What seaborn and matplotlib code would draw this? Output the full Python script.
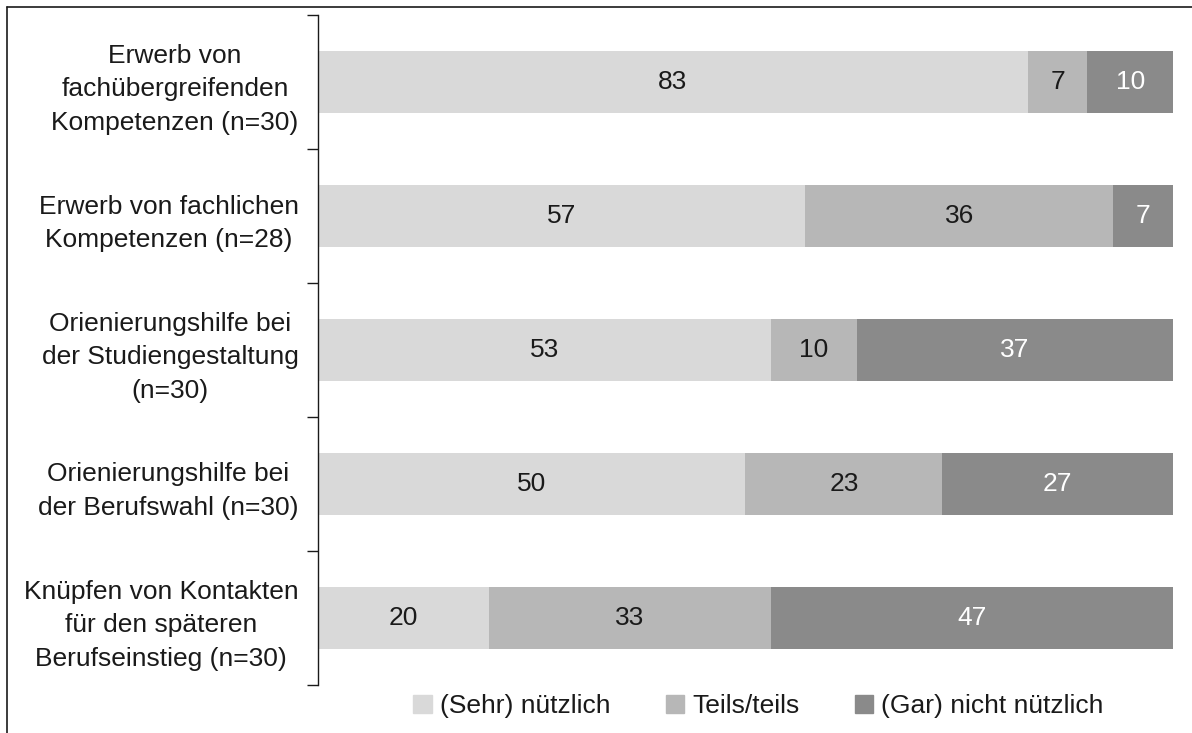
import matplotlib
matplotlib.use("Agg")
import matplotlib.pyplot as plt
from matplotlib.lines import Line2D
from matplotlib.ticker import FixedLocator
import numpy as np
import pandas as pd
import seaborn as sns

categories = [
    "Erwerb von\nfachübergreifenden\nKompetenzen (n=30)",
    "Erwerb von fachlichen\nKompetenzen (n=28)",
    "Orienierungshilfe bei\nder Studiengestaltung\n(n=30)",
    "Orienierungshilfe bei\nder Berufswahl (n=30)",
    "Knüpfen von Kontakten\nfür den späteren\nBerufseinstieg (n=30)",
]
series_names = ["(Sehr) nützlich", "Teils/teils", "(Gar) nicht nützlich"]
sehr_nuetzlich = [83, 57, 53, 50, 20]
teils_teils = [7, 36, 10, 23, 33]
nicht_nuetzlich = [10, 7, 37, 27, 47]

colors = ["#d9d9d9", "#b7b7b7", "#8a8a8a"]
text_colors = ["#1a1a1a", "#1a1a1a", "#ffffff"]
FS = 19

sns.set_theme(style="white")
plt.rcParams["font.family"] = ["Liberation Sans", "DejaVu Sans"]
plt.rcParams["font.size"] = FS

values = np.array([sehr_nuetzlich, teils_teils, nicht_nuetzlich], dtype=float)
cumulative = np.cumsum(values, axis=0)

fig = plt.figure(figsize=(11.92, 7.33), dpi=100)
ax = fig.add_axes([318 / 1192, 1 - 685 / 733, (1173 - 318) / 1192, (685 - 15) / 733])

# Stacked bars: draw the cumulative totals from the outermost segment inward
for i in reversed(range(len(series_names))):
    df = pd.DataFrame({"Kategorie": categories, "Wert": cumulative[i]})
    sns.barplot(data=df, x="Wert", y="Kategorie", orient="y", color=colors[i],
                saturation=1, width=0.47, ax=ax, linewidth=0, label=series_names[i])

# Segment value labels
for i in range(len(series_names)):
    starts = cumulative[i] - values[i]
    for j, v in enumerate(values[i]):
        ax.text(starts[j] + v / 2, j, f"{int(v)}", ha="center", va="center",
                color=text_colors[i], fontsize=FS)

ax.set_xlim(0, 100)
ax.set_ylim(len(categories) - 0.5, -0.5)
ax.set_xlabel("")
ax.set_ylabel("")
ax.set_xticks([])
for side in ["top", "right", "bottom"]:
    ax.spines[side].set_visible(False)
ax.spines["left"].set_color("#1a1a1a")
ax.spines["left"].set_linewidth(1.0)

ax.yaxis.set_minor_locator(FixedLocator(np.arange(-0.5, len(categories), 1.0)))
ax.tick_params(axis="y", which="major", length=0, pad=14, labelsize=FS,
               labelcolor="#1a1a1a")
ax.tick_params(axis="y", which="minor", length=8, width=1.0, color="#1a1a1a",
               direction="out", left=True)
for lbl in ax.get_yticklabels():
    lbl.set_multialignment("center")
    lbl.set_linespacing(1.5)

handles = [plt.Rectangle((0, 0), 1, 1, color=c) for c in colors]
ax.legend(handles, series_names, loc="upper center", bbox_to_anchor=(0.515, 0.006),
          ncol=3, frameon=False, fontsize=FS, handlelength=0.7, handleheight=0.7,
          handletextpad=0.3, columnspacing=2.1, borderpad=0, labelcolor="#1a1a1a")

# Outer frame (left and top edges)
fig.add_artist(Line2D([7 / 1192, 7 / 1192], [0, 1 - 7 / 733], transform=fig.transFigure,
                      color="#1a1a1a", linewidth=1.2))
fig.add_artist(Line2D([7 / 1192, 1], [1 - 7 / 733, 1 - 7 / 733], transform=fig.transFigure,
                      color="#1a1a1a", linewidth=1.2))

fig.savefig("out.png", dpi=100)
